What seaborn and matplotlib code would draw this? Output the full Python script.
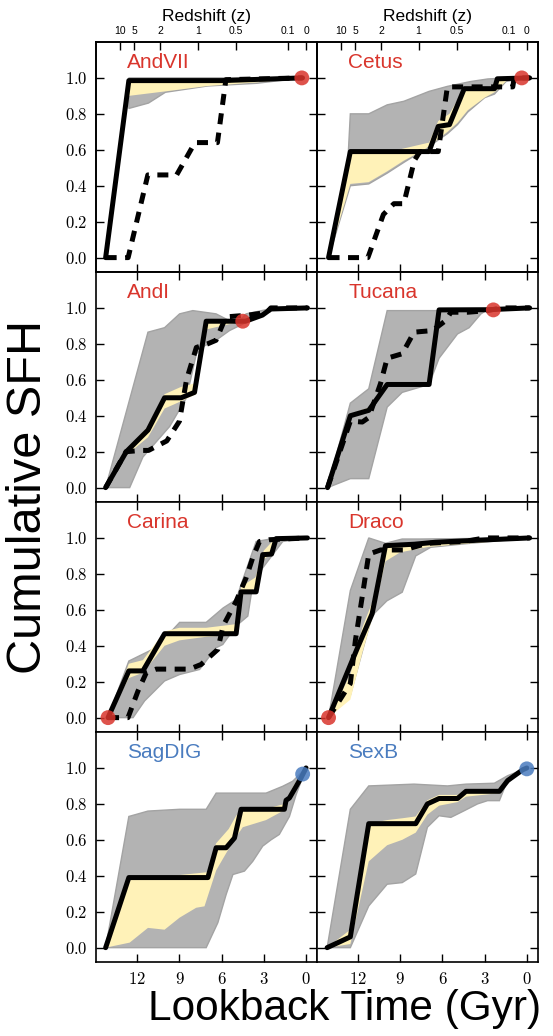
import matplotlib
matplotlib.use("Agg")
import matplotlib.pyplot as plt
import seaborn as sns
from matplotlib.ticker import FixedLocator, FuncFormatter

# ---------------- data (lookback time in Gyr, cumulative SFH fraction) ----------------
panel_names = [["AndVII", "Cetus"], ["AndI", "Tucana"], ["Carina", "Draco"], ["SagDIG", "SexB"]]
name_colors = [["#d9352c", "#d9352c"], ["#d9352c", "#d9352c"], ["#d9352c", "#d9352c"], ["#4a7cbf", "#4a7cbf"]]

lookback_ticks = [12, 9, 6, 3, 0]
frac_ticks = [0.0, 0.2, 0.4, 0.6, 0.8, 1.0]
redshift_labels = ["10", "5", "2", "1", "0.5", "0.1", "0"]
redshift_lookback = [13.2, 12.2, 10.35, 7.7, 5.0, 1.3, 0.0]

# AndVII
andvii_best_t = [14.25, 12.6, 6.0, 0.25]
andvii_best_f = [0.0, 0.985, 0.985, 1.0]
andvii_alt_t = [14.25, 12.65, 11.25, 9.2, 7.9, 6.3, 5.7, 0.25]
andvii_alt_f = [0.0, 0.0, 0.46, 0.46, 0.64, 0.64, 0.99, 1.0]
andvii_grey_hi_t = [12.6, 0.25]
andvii_grey_hi_f = [1.0, 1.0]
andvii_grey_lo_t = [12.6, 11.2, 10.0, 7.0, 3.5, 0.25]
andvii_grey_lo_f = [0.83, 0.86, 0.92, 0.955, 0.97, 1.0]
andvii_yel_hi_t = [12.6, 6.0, 0.25]
andvii_yel_hi_f = [0.985, 0.985, 1.0]
andvii_yel_lo_t = [12.6, 10.0, 7.0, 3.5, 0.25]
andvii_yel_lo_f = [0.90, 0.925, 0.955, 0.975, 1.0]
andvii_mark = (0.3, 1.0)

# Cetus
cetus_best_t = [14.1, 12.55, 6.95, 6.3, 5.5, 4.45, 2.3, 2.1, -0.2]
cetus_best_f = [0.0, 0.59, 0.59, 0.73, 0.74, 0.94, 0.94, 0.995, 1.0]
cetus_alt_t = [14.1, 11.3, 10.2, 9.45, 8.75, 8.0, 7.6, 6.3, 5.65, 2.3, 1.0, 0.9, -0.2]
cetus_alt_f = [0.0, 0.0, 0.24, 0.30, 0.30, 0.54, 0.59, 0.59, 0.95, 0.95, 0.95, 1.0, 1.0]
cetus_grey_hi_t = [14.1, 12.75, 12.55, 11.24, 9.93, 8.74, 6.95, 5.64, 3.98, 2.79, 1.5, -0.2]
cetus_grey_hi_f = [0.0, 0.5, 0.80, 0.80, 0.85, 0.87, 0.925, 0.953, 0.98, 0.994, 1.0, 1.0]
cetus_grey_lo_t = [14.1, 12.55, 11.24, 9.93, 8.74, 7.3, 5.64, 4.93, 4.2, 3.0, 2.3, 1.48, -0.2]
cetus_grey_lo_f = [0.0, 0.40, 0.41, 0.47, 0.53, 0.60, 0.69, 0.74, 0.81, 0.89, 0.91, 0.98, 1.0]
cetus_yel_hi_t = [14.1, 12.55, 9.7, 6.95, 6.3, 5.5, 4.45, 2.3, 2.1, 1.5]
cetus_yel_hi_f = [0.0, 0.59, 0.59, 0.64, 0.76, 0.80, 0.94, 0.95, 0.995, 1.0]
cetus_yel_lo_t = [14.1, 12.55, 11.24, 9.93, 8.74, 7.3, 5.64, 4.93, 4.2, 3.0, 2.3, 1.5]
cetus_yel_lo_f = [0.0, 0.41, 0.42, 0.48, 0.54, 0.60, 0.70, 0.75, 0.82, 0.89, 0.92, 0.98]
cetus_mark = (0.36, 1.0)

# AndI
andi_best_t = [14.25, 12.78, 11.24, 10.06, 8.88, 7.93, 7.1, 4.3, 3.1, 2.5, -0.1]
andi_best_f = [0.0, 0.20, 0.32, 0.50, 0.50, 0.53, 0.926, 0.926, 0.96, 0.994, 1.0]
andi_alt_t = [14.25, 12.8, 11.7, 11.2, 9.9, 9.0, 8.5, 7.8, 7.0, 6.4, 5.7, 4.1, 2.8, 2.5, -0.1]
andi_alt_f = [0.0, 0.2, 0.207, 0.207, 0.26, 0.37, 0.60, 0.78, 0.80, 0.82, 0.95, 0.96, 0.975, 1.0, 1.0]
andi_grey_hi_t = [14.25, 11.24, 10.06, 8.99, 8.05, 6.4, 4.97, 4.26, 2.6, -0.1]
andi_grey_hi_f = [0.0, 0.865, 0.89, 0.967, 0.985, 0.967, 0.91, 0.967, 0.994, 1.0]
andi_grey_lo_t = [14.25, 13.85, 12.54, 11.6, 9.7, 8.5, 7.8, 7.2, 6.4, 5.44, 4.5, 3.07, 2.2, -0.1]
andi_grey_lo_f = [0.0, 0.0, 0.0, 0.17, 0.34, 0.50, 0.744, 0.79, 0.82, 0.874, 0.91, 0.967, 0.994, 1.0]
andi_yel_hi_t = [14.25, 12.78, 11.24, 10.06, 8.9, 7.93, 7.1, 4.5]
andi_yel_hi_f = [0.0, 0.21, 0.34, 0.52, 0.56, 0.58, 0.935, 0.935]
andi_yel_lo_t = [14.25, 12.78, 11.24, 10.06, 8.9, 7.8, 7.3, 7.1, 6.0, 4.5]
andi_yel_lo_f = [0.0, 0.18, 0.28, 0.44, 0.48, 0.52, 0.80, 0.88, 0.90, 0.926]
andi_mark = (4.5, 0.926)

# Tucana
tucana_best_t = [14.17, 12.55, 11.24, 9.93, 6.95, 6.24, 2.79, -0.2]
tucana_best_f = [0.0, 0.40, 0.43, 0.574, 0.574, 0.989, 0.99, 1.0]
tucana_alt_t = [14.17, 12.55, 11.7, 11.24, 10.4, 9.93, 8.86, 8.02, 6.71, 5.76, 5.4, 4.2, 2.79, 1.8, -0.2]
tucana_alt_f = [0.0, 0.37, 0.365, 0.39, 0.58, 0.72, 0.745, 0.865, 0.874, 0.93, 0.976, 0.976, 0.985, 1.0, 1.0]
tucana_grey_hi_t = [14.17, 12.55, 11.24, 9.93, 6.36, 3.26, 1.8, -0.2]
tucana_grey_hi_f = [0.0, 0.47, 0.55, 0.985, 0.985, 0.99, 1.0, 1.0]
tucana_grey_lo_t = [14.17, 12.55, 11.24, 9.93, 8.86, 6.95, 6.24, 4.93, 4.1, 3.26, 2.79, 1.8]
tucana_grey_lo_f = [0.0, 0.05, 0.05, 0.448, 0.53, 0.574, 0.72, 0.855, 0.89, 0.967, 0.99, 1.0]
tucana_yel_hi_t = [12.55, 11.24, 9.93, 6.95, 6.24, 2.8]
tucana_yel_hi_f = [0.41, 0.445, 0.585, 0.585, 0.995, 0.995]
tucana_yel_lo_t = [12.55, 11.24, 9.93, 6.95, 6.24, 2.8]
tucana_yel_lo_f = [0.39, 0.42, 0.565, 0.565, 0.98, 0.985]
tucana_mark = (2.38, 0.989)

# Carina
carina_best_t = [14.08, 12.6, 11.6, 10.06, 4.97, 4.62, 3.55, 3.08, 2.45, 2.13, -0.1]
carina_best_f = [0.0, 0.26, 0.26, 0.467, 0.467, 0.70, 0.70, 0.907, 0.91, 0.996, 1.0]
carina_alt_t = [14.08, 12.66, 11.95, 11.36, 10.65, 8.28, 7.46, 6.27, 5.9, 4.97, 4.26, 3.79, 3.31, 2.6, -0.1]
carina_alt_f = [0.0, 0.0, 0.148, 0.25, 0.27, 0.27, 0.296, 0.38, 0.51, 0.648, 0.778, 0.89, 0.98, 0.99, 1.0]
carina_grey_hi_t = [14.08, 12.6, 10.65, 8.99, 7.1, 5.9, 4.97, 4.62, 3.55, 2.1, -0.1]
carina_grey_hi_f = [0.0, 0.315, 0.39, 0.53, 0.53, 0.61, 0.657, 0.74, 0.98, 1.0, 1.0]
carina_grey_lo_t = [14.08, 12.3, 11.48, 10.06, 8.99, 7.57, 6.39, 5.92, 4.97, 4.14, 3.79, 3.08, 2.37, 1.66, -0.1]
carina_grey_lo_f = [0.0, 0.0, 0.093, 0.204, 0.24, 0.268, 0.389, 0.407, 0.51, 0.565, 0.74, 0.833, 0.907, 0.98, 1.0]
carina_yel_hi_t = [14.08, 12.6, 11.6, 10.06, 9.0, 7.1, 5.0, 4.6, 3.6, 3.0, 2.4, 2.1]
carina_yel_hi_f = [0.0, 0.30, 0.32, 0.48, 0.50, 0.50, 0.52, 0.73, 0.78, 0.93, 0.98, 1.0]
carina_yel_lo_t = [14.08, 12.6, 11.6, 10.06, 9.0, 7.1, 5.0, 4.6, 3.6, 3.0, 2.4, 2.1]
carina_yel_lo_f = [0.0, 0.22, 0.25, 0.40, 0.43, 0.45, 0.46, 0.68, 0.72, 0.88, 0.92, 0.98]
carina_mark = (14.08, 0.0)

# Draco
draco_best_t = [14.1, 12.07, 11.0, 10.05, 8.0, 6.5, 3.0, -0.2]
draco_best_f = [0.0, 0.383, 0.578, 0.957, 0.965, 0.976, 0.989, 1.0]
draco_alt_t = [14.1, 12.55, 12.19, 11.71, 11.24, 10.4, 8.74, 7.07, 4.45, 3.0, -0.2]
draco_alt_f = [0.0, 0.19, 0.43, 0.67, 0.91, 0.933, 0.933, 0.97, 0.98, 1.0, 1.0]
draco_grey_hi_t = [14.1, 12.55, 11.24, 10.05, 8.86, 7.55, -0.2]
draco_grey_hi_f = [0.0, 0.707, 1.0, 0.97, 0.994, 0.994, 1.0]
draco_grey_lo_t = [14.1, 12.55, 11.0, 9.95, 8.86, 7.9, 6.83, 4.45, -0.2]
draco_grey_lo_f = [0.0, 0.124, 0.568, 0.65, 0.698, 0.90, 0.948, 0.967, 1.0]
draco_yel_hi_t = [14.1, 12.55, 11.7, 11.0, 10.05, 9.0, 7.0, 4.0, -0.2]
draco_yel_hi_f = [0.0, 0.24, 0.50, 0.64, 0.96, 0.97, 0.98, 0.99, 1.0]
draco_yel_lo_t = [14.1, 12.55, 11.7, 11.0, 10.05, 9.0, 7.0, 4.0, -0.2]
draco_yel_lo_f = [0.0, 0.10, 0.36, 0.55, 0.87, 0.92, 0.95, 0.97, 0.995]
draco_mark = (14.1, 0.0)

# SagDIG
sagdig_best_t = [14.25, 12.6, 6.98, 6.39, 5.68, 5.09, 4.62, 1.54, 1.42, 1.18, 0.36, 0.0]
sagdig_best_f = [0.0, 0.39, 0.39, 0.556, 0.556, 0.61, 0.77, 0.77, 0.82, 0.833, 0.944, 1.0]
sagdig_grey_hi_t = [14.25, 12.6, 11.24, 8.99, 7.1, 6.39, 2.84, 1.66, 0.95, 0.0]
sagdig_grey_hi_f = [0.0, 0.73, 0.76, 0.77, 0.77, 0.86, 0.86, 0.898, 0.926, 1.0]
sagdig_grey_lo_t = [14.25, 7.1, 6.27, 5.68, 5.2, 4.38, 3.79, 3.08, 2.49, 1.9, 1.18, 0.71, 0.0]
sagdig_grey_lo_f = [0.0, 0.0, 0.139, 0.296, 0.407, 0.426, 0.48, 0.565, 0.60, 0.63, 0.73, 0.85, 1.0]
sagdig_yel_hi_t = [14.25, 12.6, 9.5, 7.0, 6.4, 5.5, 5.0, 4.6, 2.5, 1.5, 0.9, 0.0]
sagdig_yel_hi_f = [0.0, 0.39, 0.40, 0.42, 0.58, 0.66, 0.73, 0.77, 0.78, 0.80, 0.90, 1.0]
sagdig_yel_lo_t = [14.25, 12.54, 11.24, 10.06, 8.99, 7.81, 7.22, 6.39, 5.2, 4.5, 2.84, 1.66, 0.9, 0.0]
sagdig_yel_lo_f = [0.0, 0.028, 0.11, 0.10, 0.167, 0.222, 0.23, 0.43, 0.59, 0.67, 0.71, 0.76, 0.87, 1.0]
sagdig_mark = (0.24, 0.966)

# SexB
sexb_best_t = [14.2, 12.55, 11.24, 7.9, 7.07, 6.24, 4.93, 4.33, 1.95, 1.36, 0.29, 0.0]
sexb_best_f = [0.0, 0.06, 0.69, 0.69, 0.80, 0.83, 0.83, 0.87, 0.87, 0.93, 0.99, 1.0]
sexb_grey_hi_t = [14.2, 12.55, 11.24, 8.02, 5.64, 4.33, 2.31, 1.36, 0.29, 0.0]
sexb_grey_hi_f = [0.0, 0.77, 0.90, 0.91, 0.90, 0.91, 0.915, 0.957, 0.99, 1.0]
sexb_grey_lo_t = [14.2, 12.55, 11.24, 9.93, 8.86, 7.9, 7.07, 6.24, 5.4, 4.45, 3.5, 2.79, 1.95, 1.48, 0.29, 0.0]
sexb_grey_lo_f = [0.0, 0.0, 0.232, 0.353, 0.362, 0.41, 0.67, 0.734, 0.725, 0.762, 0.80, 0.818, 0.818, 0.91, 0.99, 1.0]
sexb_yel_hi_t = [14.2, 12.55, 11.24, 9.93, 8.86, 7.9, 7.07, 6.24, 4.93, 4.33, 1.95, 1.36, 0.29]
sexb_yel_hi_f = [0.0, 0.10, 0.69, 0.71, 0.72, 0.73, 0.82, 0.85, 0.85, 0.88, 0.88, 0.94, 1.0]
sexb_yel_lo_t = [14.2, 12.55, 11.24, 9.93, 8.86, 7.9, 7.07, 6.24, 4.93, 4.33, 1.95, 1.36, 0.29]
sexb_yel_lo_f = [0.0, 0.02, 0.48, 0.57, 0.60, 0.64, 0.74, 0.79, 0.81, 0.84, 0.86, 0.92, 0.99]
sexb_mark = (0.0, 0.995)

# ---------------- assemble ----------------
def pack(prefix, has_alt=True):
    g = globals()
    d = {k: g[f"{prefix}_{k}"] for k in
         ["best_t", "best_f", "grey_hi_t", "grey_hi_f", "grey_lo_t", "grey_lo_f",
          "yel_hi_t", "yel_hi_f", "yel_lo_t", "yel_lo_f", "mark"]}
    if has_alt:
        d["alt_t"] = g[f"{prefix}_alt_t"]
        d["alt_f"] = g[f"{prefix}_alt_f"]
    return d

panels = [[pack("andvii"), pack("cetus")],
          [pack("andi"), pack("tucana")],
          [pack("carina"), pack("draco")],
          [pack("sagdig", False), pack("sexb", False)]]

GREY = "#b3b3b3"
GREY_EDGE = "#a3a3a3"
YELLOW = "#fff2b8"

sns.set_style("ticks")
plt.rcParams['font.family'] = ['Liberation Sans', 'DejaVu Sans']
plt.rcParams['mathtext.fontset'] = 'cm'
plt.rcParams['axes.linewidth'] = 1.2
for k in ['text.color', 'axes.labelcolor', 'xtick.color', 'ytick.color', 'axes.edgecolor']:
    plt.rcParams[k] = 'black'

fig, axes = plt.subplots(4, 2, figsize=(5.53, 10.36), dpi=100)
fig.subplots_adjust(left=0.1745, right=0.973, top=0.9595, bottom=0.0714, wspace=0, hspace=0)

XLIM = (14.9, -0.8)
YLIM = (-0.08, 1.2)

for r in range(4):
    for c in range(2):
        ax = axes[r, c]
        g = panels[r][c]
        pt = list(g["grey_hi_t"]) + list(g["grey_lo_t"])[::-1]
        pf = list(g["grey_hi_f"]) + list(g["grey_lo_f"])[::-1]
        ax.fill(pt, pf, facecolor=GREY, edgecolor=GREY_EDGE, lw=1.0, zorder=1)
        yt = list(g["yel_hi_t"]) + list(g["yel_lo_t"])[::-1]
        yf = list(g["yel_hi_f"]) + list(g["yel_lo_f"])[::-1]
        ax.fill(yt, yf, facecolor=YELLOW, edgecolor='none', zorder=2)
        if "alt_t" in g:
            sns.lineplot(x=g["alt_t"], y=g["alt_f"], sort=False, estimator=None, color='k',
                         lw=3.6, linestyle=(0, (2.2, 1.7)), ax=ax, zorder=3)
        sns.lineplot(x=g["best_t"], y=g["best_f"], sort=False, estimator=None, color='k',
                     lw=3.6, ax=ax, zorder=4)
        mt, mf = g["mark"]
        sns.scatterplot(x=[mt], y=[mf], s=115, color=name_colors[r][c], alpha=0.85,
                        edgecolor='none', ax=ax, zorder=5, clip_on=False)

        ax.set_xlim(*XLIM)
        ax.set_ylim(*YLIM)
        ax.set_xlabel("")
        ax.set_ylabel("")
        ax.xaxis.set_major_locator(FixedLocator(lookback_ticks))
        ax.yaxis.set_major_locator(FixedLocator(frac_ticks))
        ax.xaxis.set_major_formatter(FuncFormatter(lambda v, p: r"$%d$" % round(v)))
        ax.yaxis.set_major_formatter(FuncFormatter(lambda v, p: r"$%.1f$" % v))
        ax.tick_params(direction='in', length=6, width=1.0, top=(r != 0), right=True,
                       labelsize=12, pad=6.5,
                       labelleft=(c == 0), labelbottom=(r == 3))
        for s in ax.spines.values():
            s.set_visible(True)
            s.set_linewidth(1.2)
            s.set_color('black')

        ax.text(0.14, 0.91, panel_names[r][c], transform=ax.transAxes,
                color=name_colors[r][c], fontsize=15, ha='left', va='center', zorder=6)

        if r == 0:
            tw = ax.twiny()
            tw.set_xlim(*XLIM)
            tw.xaxis.set_major_locator(FixedLocator(redshift_lookback))
            tw.set_xticklabels(redshift_labels)
            tw.tick_params(direction='in', length=6, width=1.0, labelsize=7.5, pad=4)
            tw.set_xlabel("Redshift (z)", fontsize=12.5, labelpad=4)

fig.text(29 / 553, 1 - 497 / 1036, "Cumulative SFH", rotation=90, ha='center', va='center', fontsize=35)
fig.text(541 / 553, 1 - 1009 / 1036, "Lookback Time (Gyr)", ha='right', va='center', fontsize=30.5)

fig.savefig("out.png", dpi=100)
